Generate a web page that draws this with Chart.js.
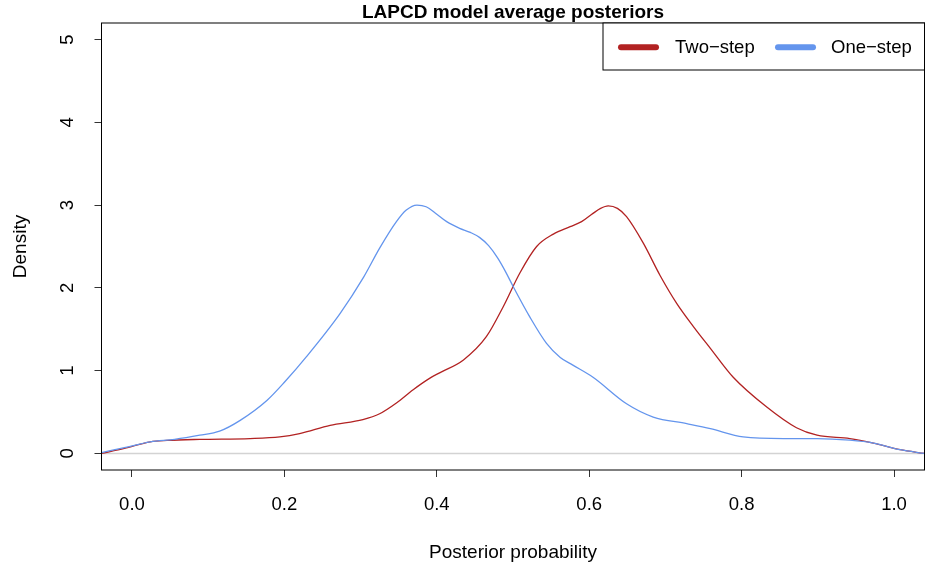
<!DOCTYPE html>
<html>
<head>
<meta charset="utf-8">
<script src="https://cdn.jsdelivr.net/npm/chart.js@4/dist/chart.umd.min.js"></script>
<style>
html,body{margin:0;padding:0;background:#fff;}
#wrap{width:927px;height:571px;}
</style>
</head>
<body>
<div id="wrap"><canvas id="c" width="927" height="571"></canvas></div>
<script>
// ---- data ----
const chartTitle = "LAPCD model average posteriors";
const xTitle = "Posterior probability";
const yTitle = "Density";
const xTicks = [0, 0.2, 0.4, 0.6, 0.8, 1.0];
const yTicks = [0, 1, 2, 3, 4, 5];
const seriesNames = ["Two\u2212step", "One\u2212step"];

const twoStepX = [-0.04,-0.01,0.024,0.046,0.089,0.155,0.194,0.22,0.26,0.303,0.325,0.347,0.369,0.391,0.405,0.435,0.465,0.487,0.509,0.531,0.553,0.575,0.59,0.605,0.615,0.625,0.637,0.649,0.671,0.693,0.715,0.737,0.759,0.789,0.833,0.872,0.899,0.942,0.973,1.008,1.04];
const twoStepY = [0.0,0.06,0.14,0.157,0.17,0.18,0.20,0.24,0.34,0.41,0.48,0.61,0.77,0.91,0.98,1.13,1.41,1.77,2.18,2.50,2.65,2.74,2.80,2.90,2.96,2.99,2.96,2.86,2.54,2.15,1.81,1.53,1.27,0.92,0.56,0.31,0.22,0.18,0.125,0.045,0.0];

const oneStepX = [-0.04,-0.01,0.024,0.056,0.089,0.115,0.142,0.177,0.2,0.229,0.273,0.304,0.325,0.347,0.36,0.374,0.386,0.40,0.413,0.43,0.444,0.456,0.468,0.48,0.49,0.5,0.522,0.544,0.562,0.578,0.605,0.649,0.684,0.728,0.759,0.802,0.855,0.899,0.942,0.973,1.008,1.04];
const oneStepY = [0.01,0.07,0.14,0.17,0.22,0.27,0.40,0.64,0.86,1.17,1.69,2.13,2.48,2.80,2.94,3.00,2.98,2.89,2.80,2.72,2.67,2.61,2.51,2.36,2.20,2.02,1.65,1.33,1.16,1.07,0.92,0.60,0.44,0.36,0.30,0.20,0.18,0.18,0.16,0.125,0.045,0.0];

// ---- styles ----
const FONT = "'Liberation Sans', Arial, Helvetica, sans-serif";
const RED = "#B22222";
const BLUE = "#6495ED";

const rStyle = {
  id: 'rStyle',
  beforeDatasetsDraw(chart) {
    const {ctx, chartArea: a, scales: {y}} = chart;
    const py = y.getPixelForValue(0);
    ctx.save();
    ctx.strokeStyle = '#d3d3d3';
    ctx.lineWidth = 1.6;
    ctx.beginPath();
    ctx.moveTo(a.left, py);
    ctx.lineTo(a.right, py);
    ctx.stroke();
    ctx.restore();
  },
  afterDraw(chart) {
    const {ctx, chartArea: a, scales: {y}} = chart;
    ctx.save();
    // plot box
    ctx.strokeStyle = '#000';
    ctx.lineWidth = 1;
    ctx.strokeRect(a.left, a.top, a.right - a.left, a.bottom - a.top);

    // y tick labels (rotated, R style)
    ctx.fillStyle = '#000';
    ctx.font = `18.5px ${FONT}`;
    ctx.textAlign = 'center';
    ctx.textBaseline = 'alphabetic';
    yTicks.forEach(v => {
      const py = y.getPixelForValue(v);
      ctx.save();
      ctx.translate(73, py);
      ctx.rotate(-Math.PI / 2);
      ctx.fillText(String(v), 0, 0);
      ctx.restore();
    });

    // y axis title
    ctx.font = `19px ${FONT}`;
    ctx.save();
    ctx.translate(26, (a.top + a.bottom) / 2);
    ctx.rotate(-Math.PI / 2);
    ctx.fillText(yTitle, 0, 0);
    ctx.restore();

    // x axis title
    ctx.fillText(xTitle, (a.left + a.right) / 2, 558);

    // main title
    ctx.font = `bold 19px ${FONT}`;
    ctx.fillText(chartTitle, (a.left + a.right) / 2, 17.5);

    // legend
    const lx0 = 603, ly0 = a.top, lx1 = a.right, ly1 = 70;
    ctx.fillStyle = '#fff';
    ctx.fillRect(lx0, ly0, lx1 - lx0, ly1 - ly0);
    ctx.strokeStyle = '#000';
    ctx.lineWidth = 1;
    ctx.strokeRect(lx0, ly0, lx1 - lx0, ly1 - ly0);
    ctx.lineCap = 'round';
    ctx.lineWidth = 6;
    const ly = 47.3;
    [[RED, 621, 656, 675, seriesNames[0]], [BLUE, 778, 813, 831, seriesNames[1]]].forEach(([col, x0, x1, tx, label]) => {
      ctx.strokeStyle = col;
      ctx.beginPath();
      ctx.moveTo(x0, ly);
      ctx.lineTo(x1, ly);
      ctx.stroke();
      ctx.fillStyle = '#000';
      ctx.font = `18.5px ${FONT}`;
      ctx.textAlign = 'left';
      ctx.fillText(label, tx, 53);
    });
    ctx.restore();
  }
};

new Chart(document.getElementById('c'), {
  type: 'line',
  data: {
    datasets: [
      {
        label: seriesNames[0],
        data: twoStepX.map((x, i) => ({x: x, y: twoStepY[i]})),
        borderColor: RED, backgroundColor: RED,
        borderWidth: 1.3, pointRadius: 0, fill: false,
        cubicInterpolationMode: 'monotone', order: 1
      },
      {
        label: seriesNames[1],
        data: oneStepX.map((x, i) => ({x: x, y: oneStepY[i]})),
        borderColor: BLUE, backgroundColor: BLUE,
        borderWidth: 1.3, pointRadius: 0, fill: false,
        cubicInterpolationMode: 'monotone', order: 0
      }
    ]
  },
  options: {
    responsive: false,
    animation: false,
    devicePixelRatio: 1,
    layout: {padding: {left: 0, right: 2.5, top: 23, bottom: 0}},
    plugins: {legend: {display: false}, title: {display: false}, tooltip: {enabled: false}},
    scales: {
      x: {
        type: 'linear', min: -0.04, max: 1.04,
        afterBuildTicks: s => { s.ticks = xTicks.map(v => ({value: v})); },
        afterFit: s => { s.height = 101; },
        ticks: {
          callback: v => Number(v).toFixed(1),
          font: {size: 18.5, family: FONT}, color: '#000',
          padding: 17, maxRotation: 0, minRotation: 0, autoSkip: false
        },
        grid: {drawOnChartArea: false, drawTicks: true, tickLength: 7, color: '#333', lineWidth: 1},
        border: {display: false}
      },
      y: {
        type: 'linear', min: -0.2, max: 5.2,
        afterBuildTicks: s => { s.ticks = yTicks.map(v => ({value: v})); },
        afterFit: s => { s.width = 101.5; },
        ticks: {display: false},
        grid: {drawOnChartArea: false, drawTicks: true, tickLength: 7, color: '#333', lineWidth: 1},
        border: {display: false}
      }
    }
  },
  plugins: [rStyle]
});
</script>
</body>
</html>
